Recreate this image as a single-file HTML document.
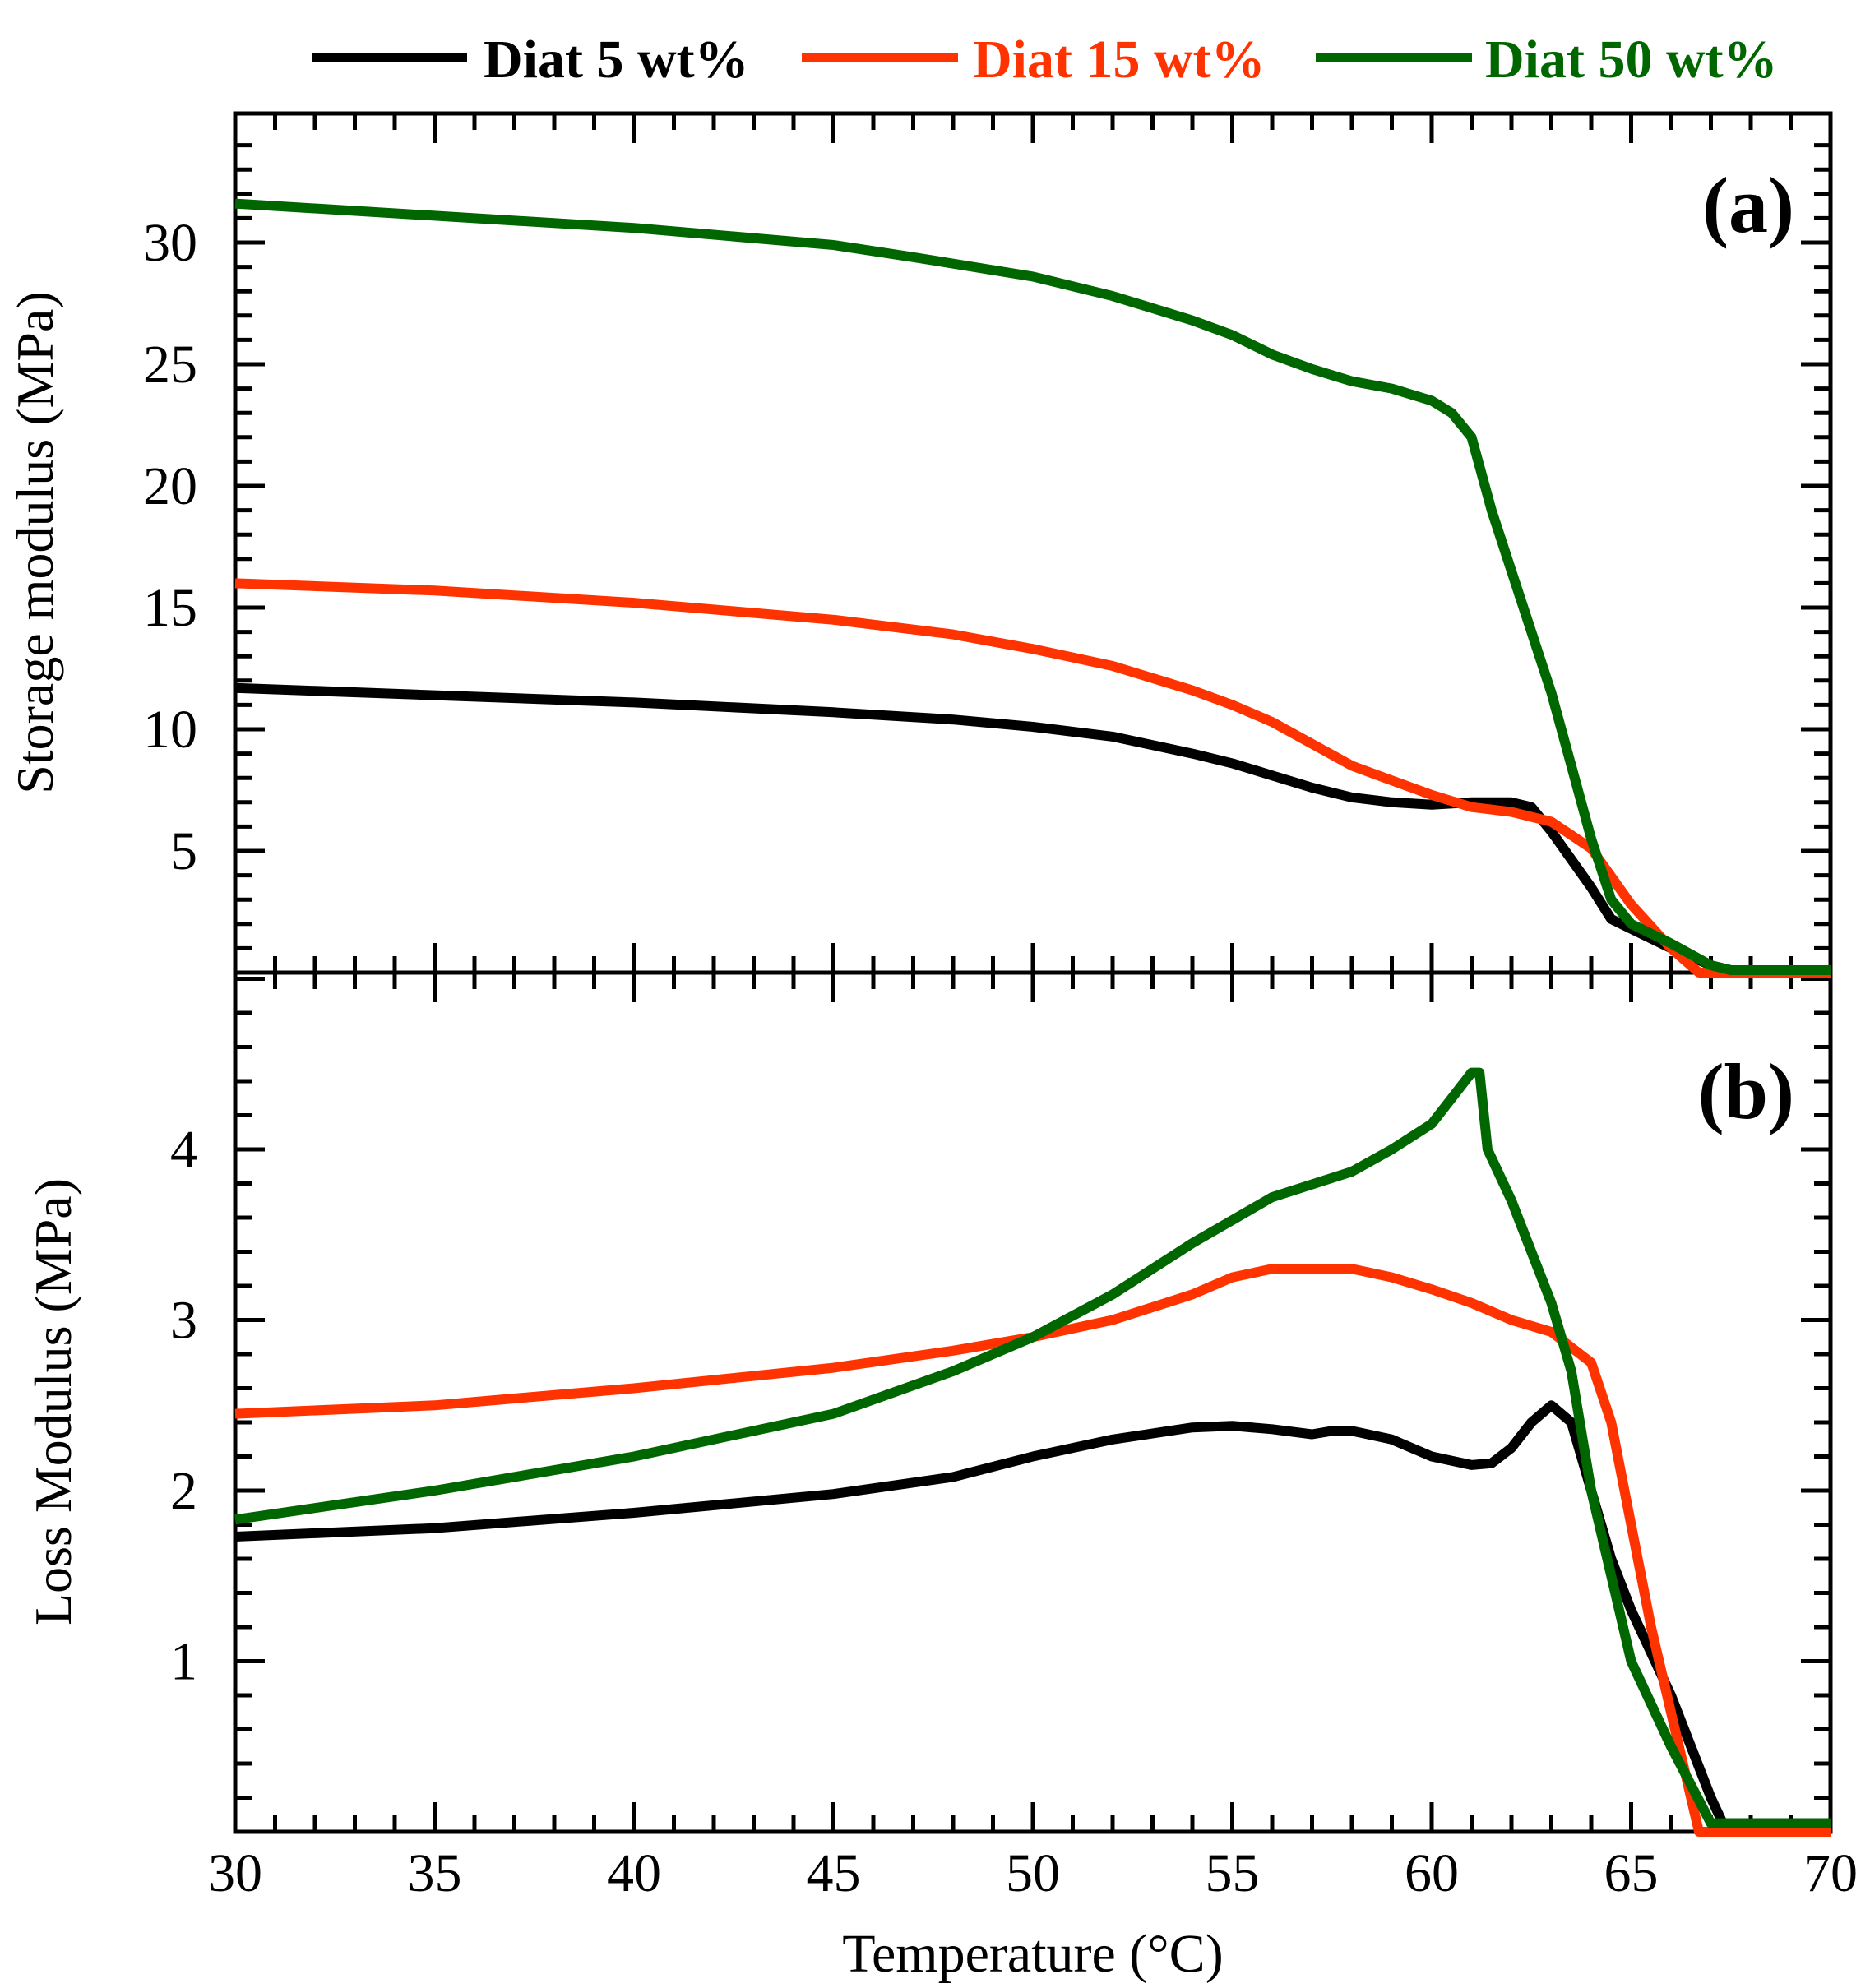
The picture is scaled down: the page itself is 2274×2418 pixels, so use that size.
<!DOCTYPE html>
<html><head><meta charset="utf-8"><style>
html,body{margin:0;padding:0;background:#fff;}
svg{display:block;font-family:"Liberation Serif",serif;}
</style></head><body>
<svg id="chart" width="2274" height="2418" viewBox="0 0 2274 2418" xmlns="http://www.w3.org/2000/svg">
<rect width="2274" height="2418" fill="#fff"/>
<g id="legend">
 <g>
  <line x1="380" y1="70" x2="568" y2="70" stroke="#000" stroke-width="12"/>
  <text x="588" y="94" font-size="66" font-weight="bold" fill="#000">Diat 5 wt%</text>
 </g>
 <g>
  <line x1="975" y1="70" x2="1165" y2="70" stroke="#ff3300" stroke-width="12"/>
  <text x="1183" y="94" font-size="66" font-weight="bold" fill="#ff3300">Diat 15 wt%</text>
 </g>
 <g>
  <line x1="1600" y1="70" x2="1790" y2="70" stroke="#006600" stroke-width="12"/>
  <text x="1806" y="94" font-size="66" font-weight="bold" fill="#006600">Diat 50 wt%</text>
 </g>
</g>
<g id="plots"></g>
<text x="2182" y="282" font-size="96" font-weight="bold" text-anchor="end">(a)</text>
<text x="2182" y="1360" font-size="96" font-weight="bold" text-anchor="end">(b)</text>
<text transform="translate(64,660) rotate(-90)" font-size="64" text-anchor="middle">Storage modulus (MPa)</text>
<text transform="translate(86,1705) rotate(-90)" font-size="64" text-anchor="middle">Loss Modulus (MPa)</text>
<text x="1256" y="2398" font-size="66" text-anchor="middle">Temperature (°C)</text>
</svg>
<script>
const xTicks=[30,35,40,45,50,55,60,65,70];
const aTicks=[5,10,15,20,25,30];
const bTicks=[1,2,3,4];
const aBlackX=[30,35,40,45,48,50,52,54,55,56,57,58,59,60,61,62,62.5,63,64,64.5,65,66,67,67.5,70];
const aBlackY=[11.7,11.4,11.1,10.7,10.4,10.1,9.7,9.0,8.6,8.1,7.6,7.2,7.0,6.9,7.0,7.0,6.8,5.8,3.5,2.2,1.8,1.0,0.3,0.1,0.1];
const aRedX=[30,35,40,45,48,50,52,54,55,56,57,58,59,60,61,62,63,64,65,66,66.7,70];
const aRedY=[16.0,15.7,15.2,14.5,13.9,13.3,12.6,11.6,11.0,10.3,9.4,8.5,7.9,7.3,6.8,6.6,6.2,5.1,2.8,1.0,0,0];
const aGreenX=[30,35,40,45,47,50,52,54,55,56,57,58,59,60,60.5,61,61.5,62,63,63.5,64,64.5,65,66,67,67.5,70];
const aGreenY=[31.6,31.1,30.6,29.9,29.4,28.6,27.8,26.8,26.2,25.4,24.8,24.3,24.0,23.5,23.0,22.0,19.0,16.5,11.5,8.5,5.5,3.0,2.0,1.2,0.3,0.1,0.1];
const bBlackX=[30,35,40,45,48,50,52,54,55,56,57,57.5,58,59,60,61,61.5,62,62.5,63,63.5,64,64.5,65,66,67,67.3,70];
const bBlackY=[1.73,1.78,1.87,1.98,2.08,2.2,2.3,2.37,2.38,2.36,2.33,2.35,2.35,2.3,2.2,2.15,2.16,2.25,2.4,2.5,2.4,2.0,1.6,1.3,0.8,0.2,0.05,0.05];
const bRedX=[30,35,40,45,48,50,52,54,55,56,58,59,60,61,62,63,64,64.5,65,65.5,66,66.7,70];
const bRedY=[2.45,2.5,2.6,2.72,2.82,2.9,3.0,3.15,3.25,3.3,3.3,3.25,3.18,3.1,3.0,2.93,2.75,2.4,1.8,1.2,0.7,0,0];
const bGreenX=[30,35,40,45,48,50,52,54,56,58,59,60,60.5,61,61.2,61.4,62,63,63.5,64,64.5,65,66,67,70];
const bGreenY=[1.83,2.0,2.2,2.45,2.7,2.9,3.15,3.45,3.72,3.87,4.0,4.15,4.3,4.45,4.45,4.0,3.7,3.1,2.7,2.0,1.5,1.0,0.5,0.05,0.05];

const NS="http://www.w3.org/2000/svg";
const L=286,R=2226,T=138,M=1183,B=2228;
const g=document.getElementById('plots');
function X(v){return L+(v-30)/(40)*(R-L);}
function YA(v){return M-v*29.6;}
function YB(v){return B-v*207.5;}
function mk(tag,attrs){const e=document.createElementNS(NS,tag);for(const k in attrs)e.setAttribute(k,attrs[k]);g.appendChild(e);return e;}
function ln(x1,y1,x2,y2){const e=mk('line',{x1:x1,y1:y1,x2:x2,y2:y2,stroke:'#000','stroke-width':5});

}
const f1=mk('rect',{x:L,y:T,width:R-L,height:M-T,fill:'none',stroke:'#000','stroke-width':5});


const f2=mk('rect',{x:L,y:M,width:R-L,height:B-M,fill:'none',stroke:'#000','stroke-width':5});


for(let v=31;v<70;v++){const x=X(v);const major=(v%5===0);const len=major?36:20;
 ln(x,T,x,T+len);ln(x,B,x,B-len);ln(x,M-len,x,M+len);}
xTicks.forEach(v=>{const t=mk('text',{x:X(v),y:B+72,'font-size':66,'text-anchor':'middle'});t.textContent=v;

});
for(let v=1;v<=34;v++){const y=YA(v);const major=(v%5===0);const len=major?36:20;ln(L,y,L+len,y);ln(R,y,R-len,y);}
aTicks.forEach(v=>{const t=mk('text',{x:L-46,y:YA(v)+22,'font-size':66,'text-anchor':'end'});t.textContent=v;

});
for(let i=1;i<=25;i++){const v=i*0.2;const y=YB(v);const major=(i%5===0);const len=major?36:20;ln(L,y,L+len,y);ln(R,y,R-len,y);}
bTicks.forEach(v=>{const t=mk('text',{x:L-46,y:YB(v)+22,'font-size':66,'text-anchor':'end'});t.textContent=v;

});
function series(xs,ys,fy,color,name){const d=xs.map((x,i)=>(i?'L':'M')+X(x).toFixed(1)+','+fy(ys[i]).toFixed(1)).join('');
 const p=mk('path',{d:d,fill:'none',stroke:color,'stroke-width':12,'stroke-linejoin':'round'});
 
 }
series(aBlackX,aBlackY,YA,'#000','storage-diat5-line');
series(aRedX,aRedY,YA,'#ff3300','storage-diat15-line');
series(aGreenX,aGreenY,YA,'#006600','storage-diat50-line');
series(bBlackX,bBlackY,YB,'#000','loss-diat5-line');
series(bRedX,bRedY,YB,'#ff3300','loss-diat15-line');
series(bGreenX,bGreenY,YB,'#006600','loss-diat50-line');
</script>
</body></html>
